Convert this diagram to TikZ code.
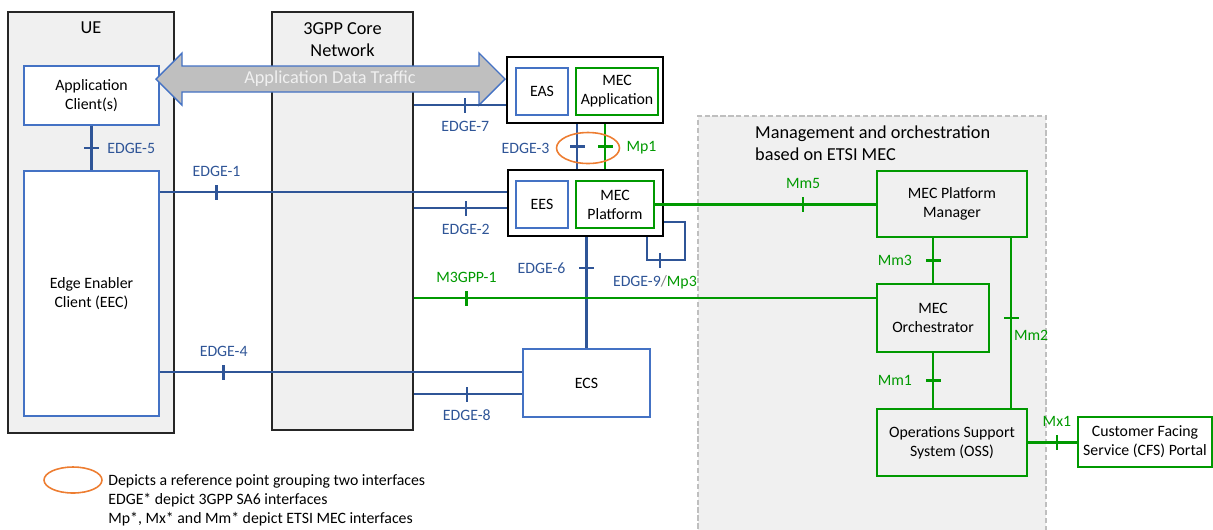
\documentclass[tikz,border=0pt]{standalone}
\usepackage{fontspec}
\setmainfont{Carlito}
\usetikzlibrary{positioning, shapes.geometric}
\definecolor{edgeblue}{RGB}{47,85,151}
\definecolor{boxblue}{RGB}{68,114,196}
\definecolor{mecgreen}{RGB}{0,153,0}
\definecolor{panel}{RGB}{240,240,240}
\definecolor{ringorange}{RGB}{237,125,49}
\definecolor{arrowgray}{RGB}{191,191,191}
\definecolor{arrowtext}{RGB}{240,240,240}

\begin{document}
\begin{tikzpicture}[x=0.02cm, y=-0.02cm, font=\fontsize{9}{10.8}\selectfont,
    panelbox/.style={draw=black!85, fill=panel, line width=0.8pt, inner sep=0pt},
    ttl/.style={font=\fontsize{10.4}{12.6}\selectfont, align=center},
    bbox/.style={draw=boxblue, fill=white, line width=1.1pt, inner sep=0pt, align=center},
    gbox/.style={draw=mecgreen, fill=white, line width=1.1pt, inner sep=0pt, align=center},
    hostbox/.style={draw=black, fill=white, line width=1.4pt, inner sep=0pt},
    ifb/.style={edgeblue, line width=1.4pt},
    ifg/.style={mecgreen, line width=1.4pt},
    tkv/.style={fill, inner sep=0pt, minimum width=1.4pt, minimum height=0.3cm},
    tkh/.style={fill, inner sep=0pt, minimum width=0.3cm, minimum height=1.4pt},
    ring/.style={draw=ringorange, ellipse, line width=0.9pt, inner sep=0pt}]
  \useasboundingbox (0,0) rectangle (1213,529);

  % UE and core network
  \node[panelbox, minimum width=3.32cm, minimum height=8.42cm] (ue) at (91,222.5) {};
  \node[ttl] (uettl) at (91,28) {UE};
  \node[panelbox, minimum width=2.82cm, minimum height=8.36cm] (cn) at (342.5,221) {};
  \node[ttl] (cnttl) at (342.5,40) {3GPP Core\\Network};
  \node[bbox, minimum width=2.7cm, minimum height=1.18cm] (ac) at (91.5,95.5) {Application\\Client(s)};
  \node[bbox, minimum width=2.7cm, minimum height=4.9cm] (eec) at (91.5,293.5) {Edge Enabler\\Client (EEC)};

  % management and orchestration
  \node[draw=black!25, dash pattern=on 3pt off 1.5pt, fill=panel, line width=0.8pt, inner sep=0pt,
        minimum width=6.96cm, minimum height=8.3cm] (mano) at (872,323.5) {};
  \node[ttl, align=left, anchor=west] (manottl) at (749,143) {Management and orchestration\\based on ETSI MEC};

  \node[hostbox, minimum width=3.12cm, minimum height=1.32cm] (ashost) at (585,90) {};
  \node[bbox, minimum width=1.04cm, minimum height=0.94cm] (eas) at (542,91.5) {EAS};
  \node[gbox, minimum width=1.64cm, minimum height=0.94cm] (mapp) at (617,91.5) {MEC\\Application};
  \node[hostbox, minimum width=3.1cm, minimum height=1.32cm] (eshost) at (585.5,203) {};
  \node[bbox, minimum width=1.04cm, minimum height=0.94cm] (ees) at (542,204.5) {EES};
  \node[gbox, minimum width=1.56cm, minimum height=0.94cm] (mplat) at (615,204.5) {MEC\\Platform};
  \node[bbox, minimum width=2.54cm, minimum height=1.36cm] (ecs) at (586.5,383) {ECS};

  \node[gbox, fill=panel, minimum width=3cm, minimum height=1.32cm] (mpm) at (952,204) {MEC Platform\\Manager};
  \node[gbox, fill=panel, minimum width=2.24cm, minimum height=1.36cm] (mo) at (933,318) {MEC\\Orchestrator};
  \node[gbox, fill=panel, minimum width=3cm, minimum height=1.34cm] (oss) at (952,442.5) {Operations Support\\System (OSS)};
  \node[gbox, minimum width=2.68cm, minimum height=1cm] (cfs) at (1145,442) {Customer Facing\\Service (CFS) Portal};

  % user plane
  \draw[fill=arrowgray, draw=boxblue, line width=0.8pt] (156,79) -- (182,53) -- (182,66) -- (479,66) -- (479,53)
    -- (505,79) -- (479,105) -- (479,92) -- (182,92) -- (182,105) -- cycle;
  \node[ttl, text=arrowtext] (adt) at (330,79) {Application Data Traffic};

  % 3GPP SA6 interfaces
  \draw[ifb] (ac) -- node[tkh, label={right:EDGE-5}] {} (eec);
  \draw[ifb] (eec.east |- 0,192) -- node[pos=0.163, tkv, label={above:EDGE-1}] {} (eshost.west |- 0,192);
  \draw[ifb] (cn.east |- 0,105) -- node[pos=0.56, tkv, label={below:EDGE-7}] {} (ashost.west |- 0,105);
  \draw[ifb] (cn.east |- 0,208) -- node[pos=0.56, tkv, label={below:EDGE-2}] {} (eshost.west |- 0,208);
  \draw[ifb] (ashost.south -| 577,0) -- node[tkh] {} (eshost.north -| 577,0);
  \draw[ifg] (ashost.south -| 605,0) -- node[tkh] {} (eshost.north -| 605,0);
  \node[ring, minimum width=1.26cm, minimum height=0.62cm,
        label={[edgeblue]left:EDGE-3}, label={[mecgreen]right:Mp1}] (grp) at (588,148) {};
  \draw[ifb] (eshost.south -| ecs.north) -- node[pos=0.28, tkh, label={[label distance=3pt]left:EDGE-6}] {} (ecs.north);
  \draw[ifb] (eshost.south -| 647,0) |- node[pos=0.67, tkv,
        label={[xshift=-0.1cm]below:{EDGE-9\textcolor{gray}{/}\textcolor{mecgreen}{Mp3}}}] {} (685,260)
        |- (eshost.east |- 0,222);
  \draw[ifg] (cn.east |- 0,298) -- node[pos=0.114, tkv, label={above:M3GPP-1}] {} (mo.west |- 0,298);
  \draw[ifb] (eec.east |- 0,372) -- node[pos=0.176, tkv, label={above:EDGE-4}] {} (ecs.west |- 0,372);
  \draw[ifb] (cn.east |- 0,394) -- node[pos=0.49, tkv, label={below:EDGE-8}] {} (ecs.west |- 0,394);

  % ETSI MEC interfaces
  \draw[ifg] (mplat.east) -- node[pos=0.67, tkv, label={above:Mm5}] {} (mpm.west |- mplat.east);
  \draw[ifg] (mpm.south -| mo.north) -- node[tkh, label={[label distance=3pt]left:Mm3}] {} (mo.north);
  \draw[ifg] (mpm.south -| 1011,0) -- node[pos=0.47, tkh,
        label={[anchor=north west, inner sep=1pt, label distance=4pt]south:Mm2}] {} (oss.north -| 1011,0);
  \draw[ifg] (mo.south) -- node[tkh, label={[label distance=3pt]left:Mm1}] {} (oss.north -| mo.south);
  \draw[ifg] (oss.east) -- node[pos=0.59, tkv, label={above:Mx1}] {} (cfs.west |- oss.east);

  % legend
  \node[ring, minimum width=1.16cm, minimum height=0.52cm] (lgring) at (73,480) {};
  \node[anchor=north west, align=left, inner sep=0pt] (lgtxt) at (108,474)
    {Depicts a reference point grouping two interfaces\\EDGE* depict 3GPP SA6 interfaces\\Mp*, Mx* and Mm* depict ETSI MEC interfaces};
\end{tikzpicture}
\end{document}
